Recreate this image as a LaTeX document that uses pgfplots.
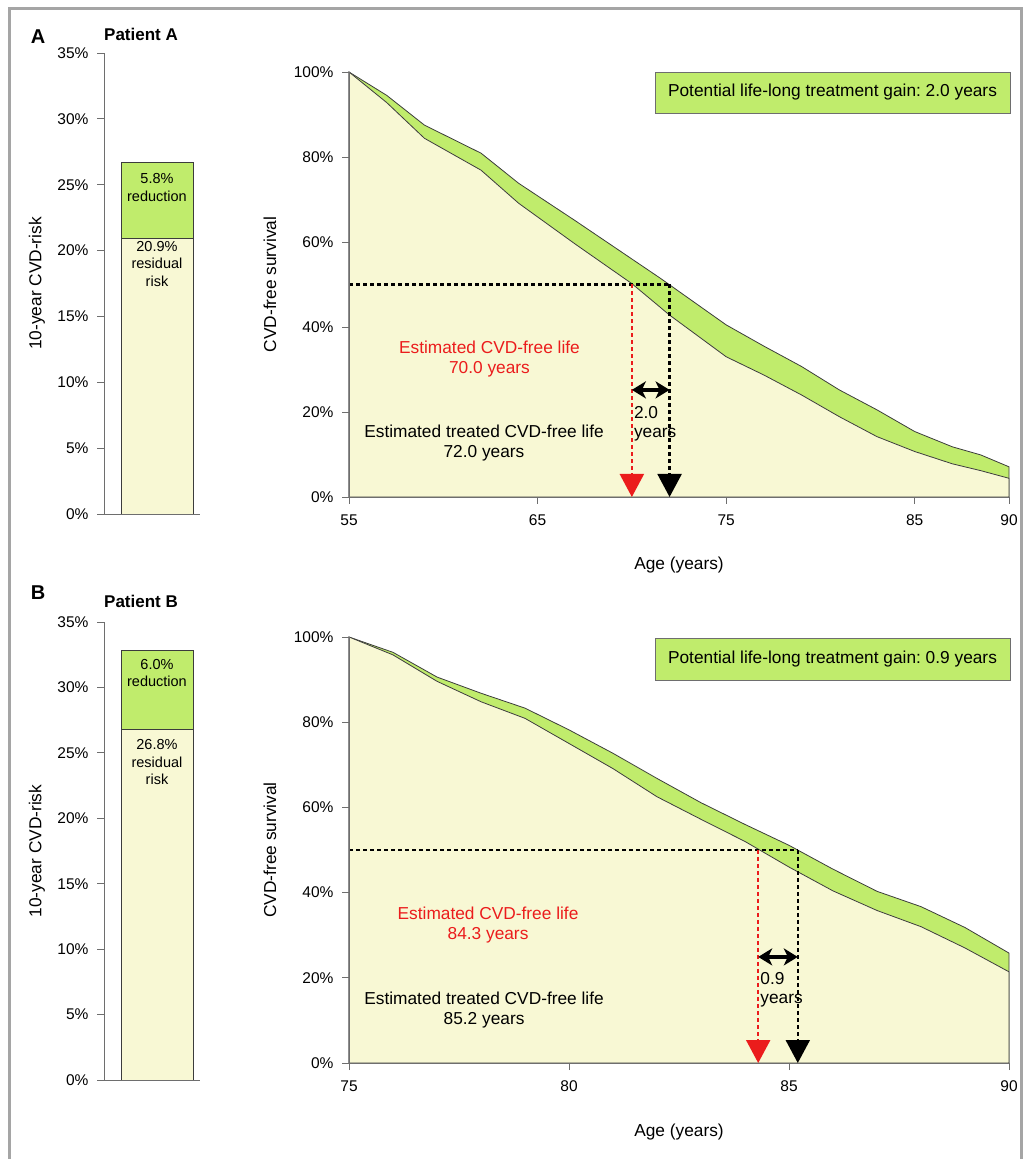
\documentclass[border=0pt]{standalone}
\usepackage{pgfplots}
\pgfplotsset{compat=1.18}
\usepackage{fontspec}
\setmainfont{Liberation Sans}
\usetikzlibrary{arrows.meta}
\frenchspacing

\definecolor{cgreen}{RGB}{192,236,108}
\definecolor{cyellow}{RGB}{248,248,212}
\definecolor{cline}{RGB}{60,60,60}
\definecolor{caxis}{RGB}{110,110,110}
\definecolor{cred}{RGB}{235,28,28}
\definecolor{cframe}{RGB}{165,165,165}

\newcommand{\ft}{\fontsize{15.5}{18}\selectfont}
\newcommand{\fs}{\fontsize{17.3}{19.5}\selectfont}
\newcommand{\fb}{\fontsize{14.5}{17.5}\selectfont}

\pgfplotsset{
  base/.style={
    scale only axis, axis x line*=bottom, axis y line*=left,
    tick align=outside, major tick length=7pt,
    axis line style={caxis, line width=0.8pt},
    tick style={caxis, line width=0.8pt},
    tick label style={font=\ft},
    yticklabel style={xshift=-5pt},
    xticklabel style={yshift=-7pt},
    label style={font=\fs},
    /pgf/number format/assume math mode=true,
    clip=false, axis on top,
  },
  curve/.style={draw=cline, line width=0.8pt},
  red dash/.style={cred, line width=2.2pt, dash pattern=on 4pt off 3pt, -{Triangle[width=24pt,length=23pt]}},
  blk dash/.style={black, line width=2.2pt, dash pattern=on 4pt off 3pt},
  gap arrow/.style={black, line width=3.5pt, {Stealth[length=14pt,width=17pt,inset=4pt]}-{Stealth[length=14pt,width=17pt,inset=4pt]}},
}

\begin{document}
\begin{tikzpicture}
\path[use as bounding box] (0pt,0pt) rectangle (1026pt,1159pt);
\coordinate (barA) at (104pt,645pt);
\coordinate (lineA) at (349pt,662pt);
\coordinate (barB) at (104pt,79pt);
\coordinate (lineB) at (349pt,96pt);
% frame
\draw[cframe, line width=3pt] (9pt,0pt) -- (9pt,1150.5pt) -- (1021pt,1150.5pt) -- (1021pt,0pt);

% ---------- Panel A ----------
\node[font=\fontsize{20}{24}\selectfont\bfseries] at (38pt,1122pt) {A};
\node[font=\fontsize{17}{20}\selectfont\bfseries] at (141pt,1125pt) {Patient A};

\begin{axis}[base, at={(barA)}, anchor=south west, width=96pt, height=461pt,
  xmin=0, xmax=1, ymin=0, ymax=35, xtick=\empty, ytick={0,5,...,35},
  yticklabel={\pgfmathprintnumber{\tick}\%},
  ybar stacked, bar width=72pt,
  ylabel={10-year CVD-risk},
  y label style={at={(axis description cs:-0.698,0.5)}, anchor=center}]
\addplot[fill=cyellow, draw=cline, line width=0.8pt] coordinates {(0.552,20.9)};
\addplot[fill=cgreen, draw=cline, line width=0.8pt] coordinates {(0.552,5.8)};
\coordinate (tA1) at (axis cs:0.552,24.8);
\coordinate (tA2) at (axis cs:0.552,19.0);
\end{axis}
\node[font=\fb, align=center] at (tA1) {5.8\%\\reduction};
\node[font=\fb, align=center] at (tA2) {20.9\%\\residual\\risk};

\begin{axis}[base, at={(lineA)}, anchor=south west, width=660pt, height=425pt,
  xmin=55, xmax=90, ymin=0, ymax=100,
  xtick={55,65,75,85,90}, ytick={0,20,...,100},
  yticklabel={\pgfmathprintnumber{\tick}\%},
  ylabel={CVD-free survival}, xlabel={Age (years)},
  y label style={at={(axis description cs:-0.1197,0.5)}, anchor=center},
  x label style={at={(axis description cs:0.5,-0.16)}, anchor=center}]
\addplot[curve, fill=cgreen] coordinates {
(55,100) (57,94.5) (59,87.5) (62,80.9) (64,73.8) (67,65.0) (70,56.0) (71.5,51.5)
(75,40.5) (77,35.5) (79,30.7) (81,25.2) (83,20.5) (85,15.4) (87,11.8) (88.5,9.9) (90,7.1)} \closedcycle;
\addplot[curve, fill=cyellow] coordinates {
(55,100) (57,92.8) (59,84.4) (62,76.9) (64,69.1) (67,59.5) (70,50.2) (72,42.8)
(75,33.0) (77,28.7) (79,24.0) (81,18.9) (83,14.2) (85,10.7) (87,7.8) (88.5,6.2) (90,4.4)} \closedcycle;
\addplot[blk dash] coordinates {(55,50) (72,50)};
\addplot[blk dash, -{Triangle[width=24pt,length=23pt]}] coordinates {(72,50) (72,0)};
\addplot[red dash] coordinates {(70,50) (70,0)};
\addplot[gap arrow] coordinates {(70,25.2) (72,25.2)};
\node[font=\fs, align=left, anchor=west, inner sep=2pt] at (axis cs:70,17.2) {2.0\\years};
\node[font=\fs, align=center, text=cred] at (axis cs:62.45,32.5) {Estimated CVD-free life\\70.0 years};
\node[font=\fs, align=center] at (axis cs:62.16,12.7) {Estimated treated CVD-free life\\72.0 years};
\end{axis}
\node[draw=caxis, line width=0.8pt, fill=cgreen, minimum width=355pt, minimum height=41pt, font=\fs] at (832.5pt,1066.5pt) {Potential life-long treatment gain: 2.0 years};

% ---------- Panel B ----------
\node[font=\fontsize{20}{24}\selectfont\bfseries] at (38pt,566pt) {B};
\node[font=\fontsize{17}{20}\selectfont\bfseries] at (141pt,558pt) {Patient B};

\begin{axis}[base, at={(barB)}, anchor=south west, width=96pt, height=458pt,
  xmin=0, xmax=1, ymin=0, ymax=35, xtick=\empty, ytick={0,5,...,35},
  yticklabel={\pgfmathprintnumber{\tick}\%},
  ybar stacked, bar width=72pt,
  ylabel={10-year CVD-risk},
  y label style={at={(axis description cs:-0.698,0.5)}, anchor=center}]
\addplot[fill=cyellow, draw=cline, line width=0.8pt] coordinates {(0.552,26.8)};
\addplot[fill=cgreen, draw=cline, line width=0.8pt] coordinates {(0.552,6.0)};
\coordinate (tB1) at (axis cs:0.552,31.1);
\coordinate (tB2) at (axis cs:0.552,24.3);
\end{axis}
\node[font=\fb, align=center] at (tB1) {6.0\%\\reduction};
\node[font=\fb, align=center] at (tB2) {26.8\%\\residual\\risk};

\begin{axis}[base, at={(lineB)}, anchor=south west, width=660pt, height=426pt,
  xmin=75, xmax=90, ymin=0, ymax=100,
  xtick={75,80,85,90}, ytick={0,20,...,100},
  yticklabel={\pgfmathprintnumber{\tick}\%},
  ylabel={CVD-free survival}, xlabel={Age (years)},
  y label style={at={(axis description cs:-0.1197,0.5)}, anchor=center},
  x label style={at={(axis description cs:0.5,-0.162)}, anchor=center}]
\addplot[curve, fill=cgreen] coordinates {
(75,100) (76,96.4) (77,90.6) (78,86.8) (79,83.3) (80,78.2) (81,72.7) (82,66.8)
(83,61.1) (84,56.0) (85,51.1) (86,45.5) (87,40.3) (88,36.7) (89,31.8) (90,25.8)} \closedcycle;
\addplot[curve, fill=cyellow] coordinates {
(75,100) (76,95.8) (77,89.6) (78,84.8) (79,80.9) (80,75.0) (81,69.1) (82,62.5)
(83,57.2) (84,52.0) (85,46.0) (86,40.4) (87,35.8) (88,32.0) (89,27.0) (90,21.4)} \closedcycle;
\addplot[blk dash] coordinates {(75,50) (85.2,50)};
\addplot[blk dash, -{Triangle[width=24pt,length=23pt]}] coordinates {(85.2,50) (85.2,0)};
\addplot[red dash] coordinates {(84.3,50) (84.3,0)};
\addplot[gap arrow] coordinates {(84.3,24.9) (85.2,24.9)};
\node[font=\fs, align=left, anchor=west, inner sep=2pt] at (axis cs:84.3,17.2) {0.9\\years};
\node[font=\fs, align=center, text=cred] at (axis cs:78.16,32.4) {Estimated CVD-free life\\84.3 years};
\node[font=\fs, align=center] at (axis cs:78.07,12.4) {Estimated treated CVD-free life\\85.2 years};
\end{axis}
\node[draw=caxis, line width=0.8pt, fill=cgreen, minimum width=355pt, minimum height=42pt, font=\fs] at (832.5pt,500pt) {Potential life-long treatment gain: 0.9 years};
\end{tikzpicture}
\end{document}
